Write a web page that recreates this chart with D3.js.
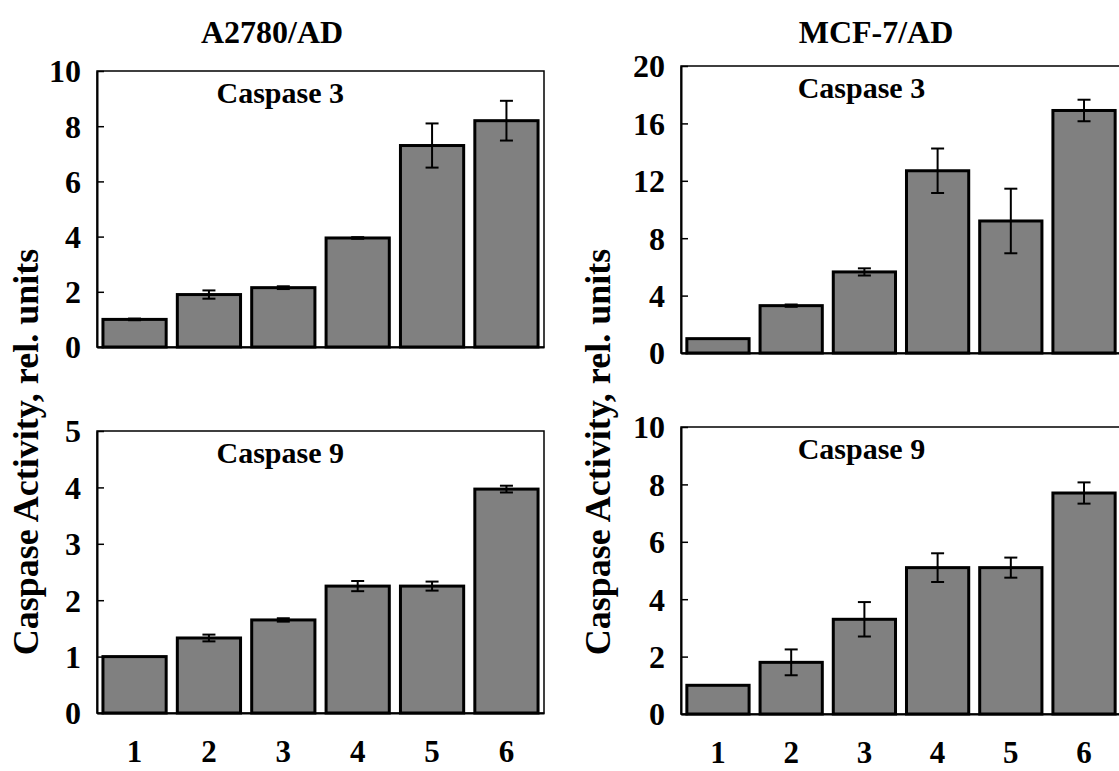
<!DOCTYPE html>
<html>
<head>
<meta charset="utf-8">
<script src="https://cdn.jsdelivr.net/npm/d3@7"></script>
<style>
  body { margin: 0; background: #fff; }
  svg { display: block; }
  svg text { font-family: "Liberation Serif", "Times New Roman", serif; font-weight: bold; }
</style>
</head>
<body>
<div class="container"></div>
<script>
const w = 1119;
const h = 771;

// lanes 1..6
const groups = ["1", "2", "3", "4", "5", "6"];

// A2780/AD
const a2780Casp3 = [1.0, 1.9, 2.15, 3.95, 7.3, 8.2];
const a2780Casp3Err = [0.03, 0.15, 0.05, 0.03, 0.8, 0.72];
const a2780Casp9 = [1.0, 1.33, 1.65, 2.25, 2.25, 3.97];
const a2780Casp9Err = [0, 0.06, 0.03, 0.09, 0.08, 0.06];

// MCF-7/AD
const mcfCasp3 = [1.0, 3.3, 5.65, 12.7, 9.2, 16.9];
const mcfCasp3Err = [0, 0.08, 0.25, 1.55, 2.25, 0.75];
const mcfCasp9 = [1.0, 1.8, 3.3, 5.1, 5.1, 7.7];
const mcfCasp9Err = [0, 0.45, 0.6, 0.5, 0.35, 0.37];

const ticksA3 = [0, 2, 4, 6, 8, 10];
const ticksA9 = [0, 1, 2, 3, 4, 5];
const ticksM3 = [0, 4, 8, 12, 16, 20];
const ticksM9 = [0, 2, 4, 6, 8, 10];

const panels = [
  {x0: 97, x1: 544, y0: 71, y1: 347, vals: a2780Casp3, err: a2780Casp3Err, ticks: ticksA3, label: "Caspase 3", xlab: false},
  {x0: 97, x1: 544, y0: 431, y1: 713, vals: a2780Casp9, err: a2780Casp9Err, ticks: ticksA9, label: "Caspase 9", xlab: true},
  {x0: 681, x1: 1121, y0: 66, y1: 353, vals: mcfCasp3, err: mcfCasp3Err, ticks: ticksM3, label: "Caspase 3", xlab: false},
  {x0: 681, x1: 1121, y0: 427, y1: 714, vals: mcfCasp9, err: mcfCasp9Err, ticks: ticksM9, label: "Caspase 9", xlab: true}
];

const svg = d3.select('.container').append('svg')
    .attr('width', w)
    .attr('height', h);

panels.forEach(p => {
  const x = d3.scaleBand()
      .domain(groups)
      .range([p.x0, p.x1])
      .paddingInner(0.15)
      .paddingOuter(0.08);

  const y = d3.scaleLinear()
      .domain([0, d3.max(p.ticks)])
      .range([p.y1, p.y0]);

  const g = svg.append('g');

  // frame
  g.append('rect')
      .attr('x', p.x0)
      .attr('y', p.y0)
      .attr('width', p.x1 - p.x0)
      .attr('height', p.y1 - p.y0)
      .attr('fill', 'none')
      .attr('stroke', '#000')
      .attr('stroke-width', 1.5);

  const data = groups.map((k, i) => ({k, v: p.vals[i], e: p.err[i]}));

  g.append('g').selectAll('rect')
      .data(data)
      .enter().append('rect')
        .attr('x', d => x(d.k))
        .attr('y', d => y(d.v))
        .attr('width', x.bandwidth())
        .attr('height', d => y(0) - y(d.v))
        .attr('fill', '#808080')
        .attr('stroke', '#000')
        .attr('stroke-width', 3);

  const eb = g.append('g').selectAll('g')
      .data(data.filter(d => d.e > 0))
      .enter().append('g')
        .attr('stroke', '#000')
        .attr('stroke-width', 2);
  eb.append('line')
      .attr('x1', d => x(d.k) + x.bandwidth() / 2)
      .attr('x2', d => x(d.k) + x.bandwidth() / 2)
      .attr('y1', d => y(d.v + d.e))
      .attr('y2', d => y(d.v - d.e));
  [1, -1].forEach(s => {
    eb.append('line')
        .attr('x1', d => x(d.k) + x.bandwidth() / 2 - 6.5)
        .attr('x2', d => x(d.k) + x.bandwidth() / 2 + 6.5)
        .attr('y1', d => y(d.v + s * d.e))
        .attr('y2', d => y(d.v + s * d.e));
  });

  const yAxis = d3.axisLeft(y)
      .tickValues(p.ticks)
      .tickSizeInner(-7)
      .tickSizeOuter(0)
      .tickPadding(16)
      .tickFormat(d3.format('d'));

  const ya = g.append('g')
      .attr('transform', `translate(${p.x0},0)`)
      .call(yAxis);
  ya.select('.domain').attr('stroke-width', 2);
  ya.selectAll('.tick line').attr('stroke-width', 1.5);
  ya.selectAll('text')
      .attr('font-size', 32)
      .attr('dy', '0.34em');

  const xa = g.append('g')
      .attr('transform', `translate(0,${p.y1})`)
      .call(d3.axisBottom(x).tickSize(0).tickPadding(27));
  xa.select('.domain').attr('stroke-width', 2);
  xa.selectAll('text')
      .attr('font-size', 31)
      .style('display', p.xlab ? null : 'none');

  g.append('text')
      .attr('x', p.x0 + 0.41 * (p.x1 - p.x0))
      .attr('y', p.y0 + 32)
      .attr('text-anchor', 'middle')
      .attr('font-size', 30)
      .text(p.label);
});

// column titles
svg.append('text')
    .attr('x', 272).attr('y', 43)
    .attr('text-anchor', 'middle')
    .attr('font-size', 32)
    .text('A2780/AD');
svg.append('text')
    .attr('x', 876).attr('y', 43)
    .attr('text-anchor', 'middle')
    .attr('font-size', 32)
    .text('MCF-7/AD');

// y axis titles
[38, 610].forEach(bx => {
  svg.append('text')
      .attr('transform', `translate(${bx},452) rotate(-90)`)
      .attr('text-anchor', 'middle')
      .attr('font-size', 36)
      .text('Caspase Activity, rel. units');
});
</script>
</body>
</html>
